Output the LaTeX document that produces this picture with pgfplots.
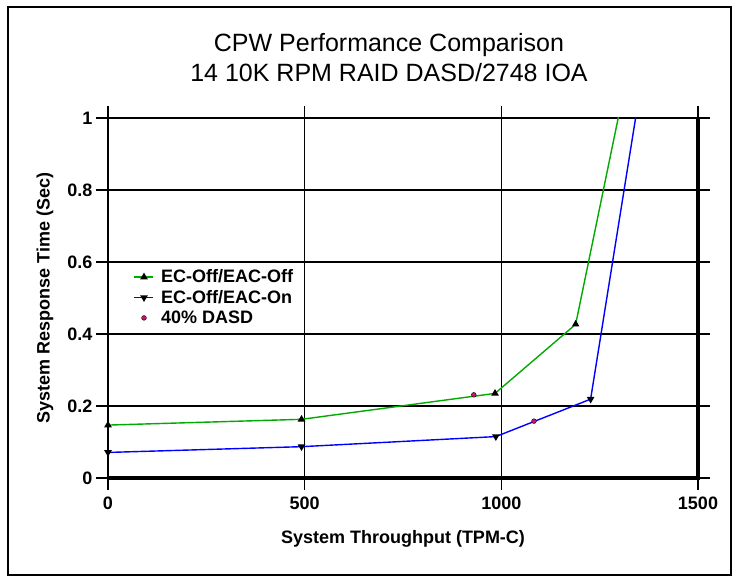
\documentclass[border=0pt]{standalone}
\usepackage{pgfplots}
\pgfplotsset{compat=1.18}
\usepackage{fontspec}
\setmainfont{Liberation Sans}

\definecolor{grn}{RGB}{0,170,0}
\definecolor{blu}{RGB}{0,0,255}
\definecolor{pnk}{RGB}{200,20,110}

\begin{document}
\begin{tikzpicture}[x=1pt,y=1pt]
% page frame
\path[use as bounding box] (0,0) rectangle (732,576);
\draw[line width=2pt] (8,1) rectangle (731,569);

\node[anchor=base,font=\fontsize{25}{28}\selectfont] at (389,524) {CPW Performance Comparison};
\node[anchor=base,font=\fontsize{25}{28}\selectfont] at (389,494) {14 10K RPM RAID DASD/2748 IOA};

\begin{axis}[
    at={(108pt,98pt)}, anchor=origin,
    scale only axis, width=590pt, height=360pt,
    xmin=0, xmax=1500, ymin=0, ymax=1,
    xtick={0,500,1000,1500}, ytick={0,0.2,0.4,0.6,0.8,1},
    yticklabels={0,0.2,0.4,0.6,0.8,1},
    grid=major,
    major grid style={black, line width=1.4pt},
    axis line style={black, line width=1.4pt},
    tick style={black, line width=1.4pt},
    tick align=outside, major tick length=12pt,
    tick label style={font=\fontsize{18}{20}\selectfont\bfseries},
    xticklabel style={/pgf/number format/set thousands separator={}, yshift=-3pt},
    /pgf/number format/assume math mode=true,
    xlabel={System Throughput (TPM-C)},
    ylabel={System Response Time (Sec)},
    every axis x label/.style={at={(axis description cs:0.5,0)}, anchor=base, yshift=-66pt,
        font=\fontsize{18}{20}\selectfont\bfseries},
    every axis y label/.style={at={([xshift=-63pt]axis description cs:0,0.5)}, rotate=90, anchor=center,
        font=\fontsize{18}{20}\selectfont\bfseries},
    legend style={at={(axis description cs:0.04,0.59)}, anchor=north west,
        draw=none, fill=white, font=\fontsize{18}{20}\selectfont\bfseries,
        row sep=2pt, inner sep=2pt},
    legend cell align=left,
    legend image code/.code={
        \draw[#1, mark indices={2}] plot coordinates {(0pt,0pt) (9.5pt,0pt) (19pt,0pt)};
        \path (24pt,0pt);},
    after end axis/.code={
        \draw[black, line width=3.2pt] (rel axis cs:0,0) -- (rel axis cs:1,0) -- (rel axis cs:1,1);},
]
\addplot[grn, line width=1.4pt, mark=triangle*, mark size=3pt, mark indices={1,2,3,4},
    mark options={black, fill=black}]
    coordinates {(0,0.147) (492,0.163) (984,0.235) (1189,0.427) (1316,1.1)};
\addlegendentry{EC-Off/EAC-Off}
\addplot[blu, line width=1.4pt, mark=triangle*, mark size=3pt, mark indices={1,2,3,4},
    mark options={black, fill=black, rotate=180}]
    coordinates {(0,0.071) (492,0.087) (986,0.115) (1227,0.219) (1356,1.1)};
\addlegendentry{EC-Off/EAC-On}
\addplot[only marks, mark=*, mark size=2.4pt, mark options={draw=black, fill=pnk}]
    coordinates {(930,0.231) (1083,0.158)};
\addlegendentry{40\% DASD}
\end{axis}
\end{tikzpicture}
\end{document}
